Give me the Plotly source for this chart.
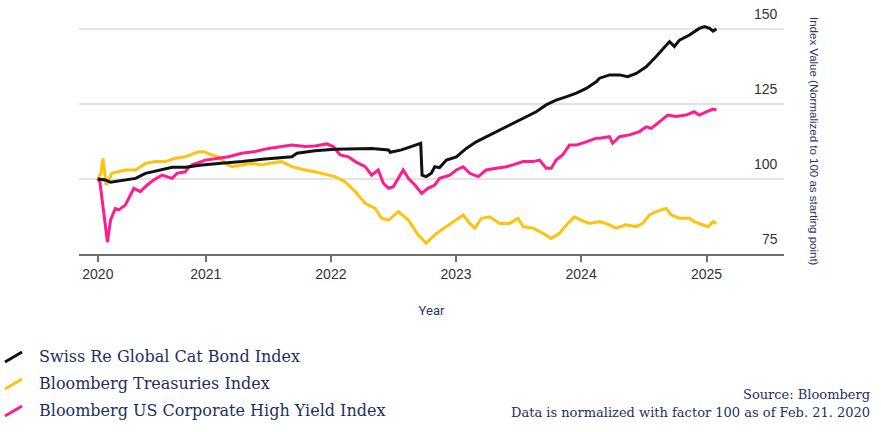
import plotly.graph_objects as go

# ---------------- data ----------------
cat_dates = ["2020-02-21","2020-03-14","2020-03-29","2020-05-11","2020-06-10","2020-07-09","2020-08-17",
             "2020-09-25","2020-11-02","2020-12-21","2021-02-07","2021-04-16","2021-06-14","2021-07-22",
             "2021-09-09","2021-09-24","2021-11-16","2022-01-13","2022-03-13","2022-04-30","2022-06-18",
             "2022-06-23","2022-07-26","2022-08-24","2022-09-20","2022-09-24","2022-10-06","2022-10-21",
             "2022-10-31","2022-11-14","2022-12-04","2023-01-02","2023-01-31","2023-03-01","2023-03-30",
             "2023-04-28","2023-05-28","2023-06-26","2023-07-25","2023-08-23","2023-09-21","2023-10-20",
             "2023-11-18","2023-12-18","2024-01-16","2024-02-14","2024-02-24","2024-03-24","2024-04-22",
             "2024-05-16","2024-06-10","2024-07-09","2024-08-07","2024-09-05","2024-09-15","2024-09-29",
             "2024-10-14","2024-11-12","2024-12-11","2024-12-26","2025-01-10","2025-01-20","2025-01-30"]
cat_values = [100.0,99.7,98.9,99.7,100.2,101.9,103.0,
              103.9,103.9,104.7,105.2,105.8,106.6,106.9,
              107.4,108.6,109.4,109.9,110.2,110.2,109.7,
              108.9,109.7,110.8,111.9,101.3,100.8,101.9,
              104.1,103.8,106.3,107.4,110.2,112.4,114.1,
              115.8,117.4,119.1,120.8,122.4,124.7,126.3,
              127.4,128.6,130.2,132.4,133.6,134.7,134.7,
              134.1,135.2,137.4,140.8,144.7,145.8,144.2,
              146.3,148.0,150.2,150.8,150.2,149.3,150.0]

tsy_dates = ["2020-02-21","2020-03-01","2020-03-07","2020-03-16","2020-04-02","2020-05-11","2020-06-10",
             "2020-07-09","2020-08-07","2020-09-05","2020-10-04","2020-11-02","2020-12-11","2020-12-26",
             "2021-01-19","2021-02-07","2021-02-27","2021-03-18","2021-04-16","2021-05-15","2021-06-14",
             "2021-07-03","2021-08-11","2021-09-09","2021-10-18","2021-11-16","2021-12-25","2022-01-13",
             "2022-02-11","2022-03-13","2022-04-11","2022-05-10","2022-05-29","2022-06-18","2022-07-17",
             "2022-08-15","2022-09-13","2022-10-06","2022-11-05","2022-12-04","2023-01-02","2023-01-22",
             "2023-02-10","2023-02-25","2023-03-16","2023-04-09","2023-05-09","2023-06-07","2023-07-01",
             "2023-07-16","2023-08-14","2023-09-12","2023-10-06","2023-10-30","2023-11-23","2023-12-13",
             "2024-01-01","2024-01-25","2024-02-24","2024-03-24","2024-04-12","2024-05-11","2024-06-10",
             "2024-06-29","2024-07-18","2024-08-07","2024-09-05","2024-09-20","2024-10-14","2024-11-12",
             "2024-11-26","2024-12-21","2025-01-05","2025-01-20","2025-01-30"]
tsy_values = [100.0,102.0,106.9,98.0,101.9,103.0,103.0,
              105.2,105.8,105.8,106.9,107.4,109.1,109.1,
              108.0,107.4,105.2,104.1,104.7,105.2,104.7,
              105.2,105.8,104.1,103.0,102.4,101.3,100.8,
              99.1,95.8,91.9,90.2,86.9,86.3,89.1,
              86.3,81.3,78.6,81.9,84.1,86.3,88.0,
              85.2,83.6,86.9,87.4,85.2,85.2,86.9,
              84.1,83.6,81.9,80.2,81.9,85.2,87.4,
              86.3,85.2,85.8,84.7,83.6,84.7,84.1,
              85.2,88.0,89.1,90.2,88.0,86.9,86.9,
              85.8,84.7,84.1,85.8,85.2]

hy_dates = ["2020-02-21","2020-02-27","2020-03-20","2020-03-29","2020-04-12","2020-04-22","2020-05-11",
            "2020-06-05","2020-06-24","2020-07-14","2020-08-02","2020-08-26","2020-09-25","2020-10-09",
            "2020-11-02","2020-11-10","2020-11-22","2020-12-31","2021-02-07","2021-03-08","2021-04-16",
            "2021-05-25","2021-07-03","2021-08-11","2021-09-09","2021-10-18","2021-11-16","2021-12-20",
            "2022-01-08","2022-01-28","2022-02-21","2022-03-13","2022-04-11","2022-04-30","2022-05-19",
            "2022-06-03","2022-06-18","2022-07-02","2022-07-17","2022-07-31","2022-08-15","2022-09-03",
            "2022-09-23","2022-10-11","2022-10-31","2022-11-14","2022-12-14","2023-01-02","2023-01-22",
            "2023-02-10","2023-03-07","2023-03-30","2023-04-28","2023-05-28","2023-06-16","2023-07-16",
            "2023-08-14","2023-09-02","2023-09-21","2023-10-06","2023-10-20","2023-11-08","2023-11-28",
            "2023-12-18","2024-01-16","2024-02-14","2024-02-24","2024-03-24","2024-04-02","2024-04-22",
            "2024-05-21","2024-06-19","2024-07-09","2024-07-24","2024-08-17","2024-09-10","2024-10-04",
            "2024-11-02","2024-11-26","2024-12-11","2024-12-31","2025-01-20","2025-01-30"]
hy_values = [100.2,99.0,79.0,86.3,90.2,89.7,91.3,
             96.9,95.8,98.0,99.7,101.3,100.2,101.9,
             102.4,103.6,104.7,106.3,106.9,107.4,108.6,
             109.2,110.2,110.8,111.3,110.8,111.0,111.7,
             110.8,108.0,107.4,105.8,104.1,101.3,103.0,
             98.6,96.9,97.4,100.2,103.0,100.2,98.0,
             95.2,96.9,98.0,100.2,101.3,103.0,104.1,
             101.9,100.8,103.0,103.6,104.1,104.7,105.8,
             105.8,106.3,103.6,103.6,106.3,108.0,111.3,
             111.3,112.4,113.6,113.6,114.1,111.9,114.1,
             114.7,115.8,117.4,116.9,119.1,121.3,120.8,
             121.3,122.4,121.3,122.4,123.3,123.0]

series_names = ["Swiss Re Global Cat Bond Index", "Bloomberg Treasuries Index",
                "Bloomberg US Corporate High Yield Index"]
series_colors = ["#111111", "#FFC20E", "#FF1C8D"]

x_tick_vals = ["2020-02-21", "2021-01-01", "2022-01-01", "2023-01-01", "2024-01-01", "2025-01-01"]
x_tick_text = ["2020", "2021", "2022", "2023", "2024", "2025"]
y_tick_vals = [75, 100, 125, 150]

source_lines = ["Source: Bloomberg", "Data is normalized with factor 100 as of Feb. 21. 2020"]
x_title = "Year"
y_title = "Index Value (Normalized to 100 as starting point)"

# ---------------- layout geometry ----------------
W, H = 881, 432
L, R, T, B = 79, 784, 5, 254   # plot area in pixels
Y_RANGE = [75, 158]


def px(xp):
    return (xp - L) / (R - L)


def py(yp):
    return (B - yp) / (B - T)


fig = go.Figure()
for (d, v), name, col in zip([(cat_dates, cat_values), (tsy_dates, tsy_values), (hy_dates, hy_values)],
                             series_names, series_colors):
    fig.add_trace(go.Scatter(x=d, y=v, name=name, mode="lines",
                             line=dict(color=col, width=3), showlegend=False))

# drawing order: yellow, pink, then black on top
fig.data = (fig.data[1], fig.data[2], fig.data[0])

fig.update_layout(
    width=W, height=H,
    margin=dict(l=L, r=W - R, t=T, b=H - B),
    plot_bgcolor="white", paper_bgcolor="white",
    xaxis=dict(
        type="date", range=["2019-12-28", "2025-08-15"],
        tickmode="array", tickvals=x_tick_vals, ticktext=x_tick_text,
        showgrid=False, showline=True, linecolor="#6e6e6e", linewidth=2,
        ticks="outside", ticklen=6, tickwidth=1.5, tickcolor="#6e6e6e",
        tickfont=dict(family="Liberation Sans", size=14, color="#333333"),
        title=dict(text=x_title, standoff=25,
                   font=dict(family="Roboto", size=13, color="#1f3a66")),
        zeroline=False,
    ),
    yaxis=dict(
        range=Y_RANGE, side="right",
        tickmode="array", tickvals=y_tick_vals, showticklabels=False,
        showgrid=True, gridcolor="#e3e3e3", gridwidth=1.5,
        zeroline=False, showline=False, ticks="",
    ),
)

# y tick labels sit just above their gridlines, right-aligned
for v in y_tick_vals:
    fig.add_annotation(x=px(780), y=v, xref="paper", yref="y", text=str(v),
                       xanchor="right", yanchor="bottom", yshift=5, showarrow=False,
                       font=dict(family="Liberation Sans", size=14, color="#333333"))

# y-axis title (reads top to bottom)
fig.add_annotation(x=px(822), y=py(141), xref="paper", yref="paper", text=y_title,
                   textangle=90, showarrow=False,
                   font=dict(family="Liberation Sans", size=11.5, color="#1f3a66"))

# custom legend with slanted line symbols
legend_y = [356, 383, 410]
for name, col, yc in zip(series_names, series_colors, legend_y):
    fig.add_shape(type="line", xref="paper", yref="paper",
                  x0=px(5), y0=py(yc + 6), x1=px(22), y1=py(yc - 4),
                  line=dict(color=col, width=3))
    fig.add_annotation(x=px(37), y=py(yc), xref="paper", yref="paper", text=name,
                       xanchor="left", yanchor="middle", showarrow=False,
                       font=dict(family="DejaVu Serif", size=16, color="#1b2f5e"))

for txt, yc in zip(source_lines, [394, 412]):
    fig.add_annotation(x=px(872), y=py(yc), xref="paper", yref="paper", text=txt,
                       xanchor="right", yanchor="middle", showarrow=False,
                       font=dict(family="DejaVu Serif", size=13, color="#1b2f5e"))

fig.write_html("out.html")
